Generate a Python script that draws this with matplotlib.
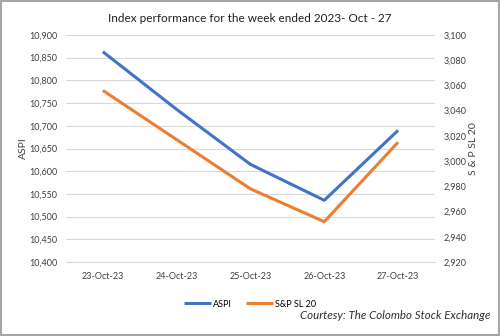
import matplotlib
matplotlib.use('Agg')
import matplotlib.pyplot as plt
from matplotlib.ticker import FuncFormatter

# data
dates = ['23-Oct-23', '24-Oct-23', '25-Oct-23', '26-Oct-23', '27-Oct-23']
aspi = [10863, 10736, 10615, 10536, 10690]
snp = [3056, 3017, 2978, 2952, 3015]

plt.rcParams['font.family'] = ['Lato', 'DejaVu Sans']

fig = plt.figure(figsize=(5, 3.36), dpi=100)
ax = fig.add_axes([0.132, 0.22, 0.738, 0.676])
ax2 = ax.twinx()

x = list(range(len(dates)))
l1, = ax.plot(x, aspi, color='#4472C4', lw=2.2, solid_capstyle='butt')
l2, = ax2.plot(x, snp, color='#ED7D31', lw=2.2, solid_capstyle='butt')

ax.set_xlim(-0.5, 4.5)
ax.set_ylim(10400, 10900)
ax.set_yticks(range(10400, 10901, 50))
ax2.set_ylim(2920, 3100)
ax2.set_yticks(range(2920, 3101, 20))

fmt = FuncFormatter(lambda v, p: f'{int(v):,}')
ax.yaxis.set_major_formatter(fmt)
ax2.yaxis.set_major_formatter(fmt)

ax.set_xticks(x)
ax.set_xticklabels(dates)
ax.grid(axis='y', color='#D9D9D9', lw=0.8)
ax.set_axisbelow(True)

for a in (ax, ax2):
    for s in a.spines.values():
        s.set_visible(False)
    a.tick_params(length=0, labelsize=6.5, colors='#404040')
ax.tick_params(axis='y', pad=6)
ax2.tick_params(axis='y', pad=6)
ax.tick_params(axis='x', pad=7)
ax.spines['bottom'].set_visible(True)
ax.spines['bottom'].set_color('#D9D9D9')

ax.set_ylabel('ASPI', fontsize=7.5, color='#404040', labelpad=1)
ax2.set_ylabel('S & P SL 20', fontsize=7.5, color='#404040', labelpad=2)

fig.text(0.5, 0.945, 'Index performance for the week ended 2023- Oct - 27',
         ha='center', va='center', fontsize=8.5, color='#202020')

fig.legend([l1, l2], ['ASPI', 'S&P SL 20'], loc='center', bbox_to_anchor=(0.5, 0.095),
           ncol=2, frameon=False, fontsize=6.5, handlelength=3, columnspacing=1.5,
           handletextpad=0.2)

fig.text(0.98, 0.062, 'Courtesy: The Colombo Stock Exchange', ha='right', va='center',
         fontsize=8.3, style='italic', color='#303030')

fig.patches.append(plt.Rectangle((0.002, 0.003), 0.996, 0.994, transform=fig.transFigure,
                                 fill=False, edgecolor='#A6A6A6', lw=1.5))

fig.savefig('out.png', dpi=100)
